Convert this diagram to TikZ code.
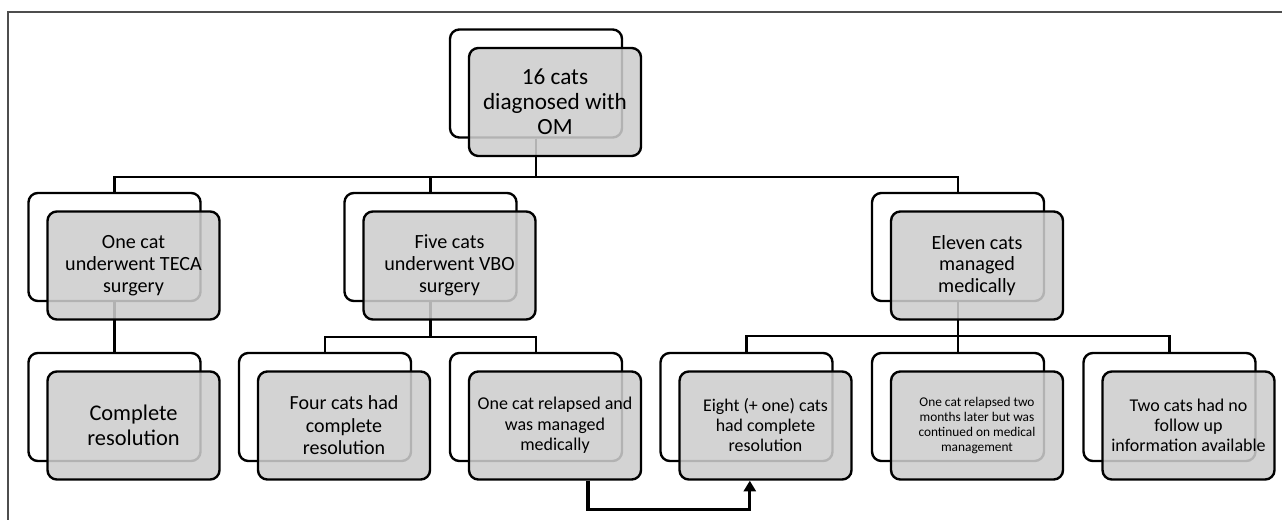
\documentclass[tikz,border=0pt]{standalone}
\usepackage{fontspec}
\setmainfont{Carlito}
\usetikzlibrary{arrows.meta,calc}
\definecolor{cBoxF}{HTML}{CDCDCD}
\definecolor{cFrame}{HTML}{4D4D4D}
\newcommand{\fsz}[2]{\fontsize{#1}{#2}\selectfont}

\begin{document}
\begin{tikzpicture}[x=0.75pt,y=-0.75pt,
  bk/.style={draw,fill=white,rounded corners=7pt,line width=1.8pt,
    minimum width=129pt,minimum height=81pt,inner sep=0pt},
  fr/.style={draw,fill=cBoxF,fill opacity=0.87,text opacity=1,rounded corners=7pt,
    line width=1.8pt,minimum width=129pt,minimum height=81pt,inner sep=1pt,align=center},
  lnk/.style={line width=1.6pt},
  relarr/.style={-{Triangle[width=9pt,length=8pt]},line width=2.5pt}]

  \useasboundingbox (0,0) rectangle (1282,520);
  \draw[draw=cFrame,line width=1.5pt] (8,520) -- (8,12) -- (1282,12);

  % back boxes
  \node[bk] (omB) at (536,83.5) {};
  \node[bk] (tecaB) at (114.5,247) {};
  \node[bk] (vboB) at (430.5,247) {};
  \node[bk] (medB) at (958,247) {};
  \node[bk] (resB) at (114.5,407) {};
  \node[bk] (fourB) at (325,407) {};
  \node[bk] (relB) at (536,407) {};
  \node[bk] (eightB) at (746.5,407) {};
  \node[bk] (twomB) at (958,407) {};
  \node[bk] (nofuB) at (1169.5,407) {};

  % tree links
  \draw[lnk] (omB.south) -- ++(0,38) -| (tecaB.north);
  \draw[lnk] (omB.south) -- ++(0,38) -| (vboB.north);
  \draw[lnk] (omB.south) -- ++(0,38) -| (medB.north);
  \draw[lnk] (tecaB.south) -- (resB.north);
  \draw[lnk] (vboB.south) -- ++(0,35) -| (fourB.north);
  \draw[lnk] (vboB.south) -- ++(0,35) -| (relB.north);
  \draw[lnk] (medB.south) -- ++(0,34) -| (eightB.north);
  \draw[lnk] (medB.south) -- ++(0,34) -| (twomB.north);
  \draw[lnk] (medB.south) -- ++(0,34) -| (nofuB.north);

  % front boxes
  \node[fr,font=\fsz{17.4}{18.75}] (omF) at (555,102) {16 cats\\diagnosed with\\OM};
  \node[fr,font=\fsz{15.1}{16.3}] (tecaF) at (133.5,265.5) {One cat\\underwent TECA\\surgery};
  \node[fr,font=\fsz{15.1}{16.3}] (vboF) at (449.5,265.5) {Five cats\\underwent VBO\\surgery};
  \node[fr,font=\fsz{15.1}{16.3}] (medF) at (977,265.5) {Eleven cats\\managed\\medically};
  \node[fr,font=\fsz{16.8}{18.75}] (resF) at (133.5,425.5) {Complete\\resolution};
  \node[fr,font=\fsz{15}{16.9}] (fourF) at (344,425.5) {Four cats had\\complete\\resolution};
  \node[fr,font=\fsz{13.5}{15.4}] (relF) at (555,425.5) {One cat relapsed and\\was managed\\medically};
  \node[fr,font=\fsz{13.4}{15}] (eightF) at (765.5,425.5) {Eight (+ one) cats\\had complete\\resolution};
  \node[fr,font=\fsz{10}{11.25}] (twomF) at (977,425.5)
    {One cat relapsed two\\months later but was\\continued on medical\\management};
  \node[fr,font=\fsz{13.5}{15}] (nofuF) at (1188.5,425.5)
    {Two cats had no\\follow up\\information available};

  % relapse back to resolution
  \draw[relarr] ($(relF.south west)!0.69!(relF.south east)$) -- ++(0,29)
    -| ($(eightF.south west)!0.41!(eightF.south east)$);
\end{tikzpicture}
\end{document}
